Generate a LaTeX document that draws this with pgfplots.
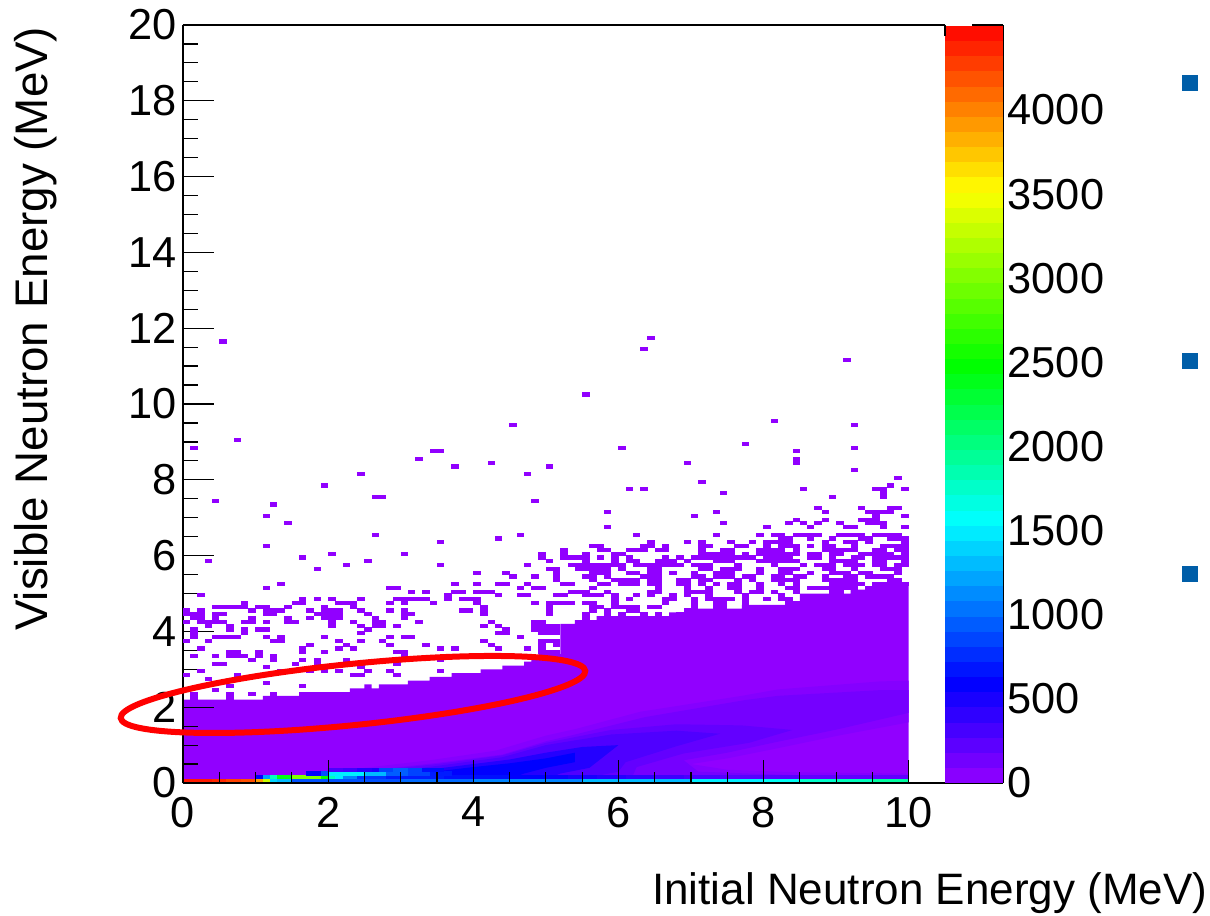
\documentclass[border=0pt]{standalone}
\usepackage{fontspec}
\setmainfont{Liberation Sans}
\usepackage{pgfplots}
\pgfplotsset{compat=1.18}
\definecolor{cellpurple}{rgb}{0.57,0,1}
\definecolor{bandAz}{rgb}{0.52,0,1}
\definecolor{bandA}{rgb}{0.46,0,1}
\definecolor{bandAb}{rgb}{0.39,0,1}
\definecolor{bandB}{rgb}{0.31,0,1}
\definecolor{bandC}{rgb}{0.14,0,1}
\definecolor{bandD}{rgb}{0,0,1}
\definecolor{slideblue}{RGB}{0,94,168}
\pgfdeclareplotmark{cell}{\pgfpathrectangle{\pgfqpoint{-2.8pt}{-1.55pt}}{\pgfqpoint{5.6pt}{3.1pt}}\pgfusepathqfill}
\pgfdeclareplotmark{palcell}{\pgfpathrectangle{\pgfqpoint{-21.75pt}{-5.82pt}}{\pgfqpoint{43.5pt}{11.64pt}}\pgfusepathqfill}
\pgfplotsset{
  colormap={root}{rgb(0pt)=(0.58,0,1); rgb(595pt)=(0,0,1); rgb(1560pt)=(0,1,1); rgb(2480pt)=(0,1,0); rgb(3520pt)=(1,1,0); rgb(4505pt)=(1,0,0)},
  common/.style={scale only axis, clip=true, tick align=inside,
    tick style={black, line width=0.9pt},
    axis line style={line width=1.1pt, black},
    /pgf/number format/assume math mode=true,
    /pgf/number format/1000 sep={},
    tick label style={font=\fontsize{32.5}{32.5}\selectfont}},
}
\begin{document}
\begin{tikzpicture}
\path[use as bounding box] (-137.25pt,-99pt) rectangle (770.25pt,587.25pt);
% main histogram
\begin{axis}[common, at={(0,0)}, anchor=south west, width=571.5pt, height=568.5pt,
  xmin=0, xmax=10.5, ymin=0, ymax=20,
  axis x line=none, axis y line*=left, axis on top,
  ytick={0,2,...,20}, minor y tick num=3,
  major tick length=23.25pt, minor tick length=11.6pt,
  yticklabel style={xshift=-1pt},
  ylabel={Visible Neutron Energy (MeV)},
  every axis y label/.style={at={(rel axis cs:0,0)}, xshift=-101.25pt, yshift=570.75pt,
    rotate=90, anchor=base east, font=\fontsize{34.3}{34.3}\selectfont},
  point meta min=0, point meta max=4505, colormap name=root]
% solid region: upper edge of the filled bins
\addplot[const plot, fill=cellpurple, draw=none] coordinates {
(0,2.2)(1.1,2.3)(1.6,2.4)(2.3,2.5)(2.5,2.6)(2.6,2.5)(2.7,2.6)(3.1,2.7)(3.4,2.8)(3.7,2.9)(4.1,3.0)(4.4,3.1)(4.7,3.2)(4.8,3.3)(4.9,3.4)(5.2,4.2)(5.4,4.3)(5.7,4.4)(6.7,4.5)(7.0,4.6)(7.7,4.7)(8.3,4.8)(8.5,5.0)(9.2,5.1)(9.6,5.2)(9.9,5.3)(10,5.3)} \closedcycle;
% density bands
\addplot[fill=bandAz, draw=none] coordinates {
(2.0,0.1)(2.0,0.2)(2.5,0.4)(3.4,0.6)(4.3,0.85)(5,1.25)(5.4,1.42)(6.3,1.88)(7.7,2.3)(8.2,2.47)(9.6,2.68)(10,2.7)(10,1.6)(9.03,1.25)(8.1,0.88)(7.5,0.65)(7.0,0.5)(7.5,0.35)(8.5,0.28)(10,0.25)(10,0.1)} --cycle;
\addplot[fill=bandA, draw=none] coordinates {
(2.2,0.1)(2.2,0.2)(2.6,0.34)(3.5,0.53)(4.4,0.75)(5,1.1)(5.34,1.25)(6.37,1.74)(7.75,2.19)(8.2,2.3)(9.6,2.45)(10,2.45)(10,1.85)(9.03,1.42)(8.1,1.05)(7.5,0.8)(6.9,0.6)(7.1,0.3)(8.5,0.2)(10,0.18)(10,0.1)} --cycle;
\addplot[fill=bandAb, draw=none] coordinates {
(2.4,0.1)(2.4,0.2)(2.9,0.38)(3.5,0.5)(4.4,0.73)(5,1.06)(5.9,1.4)(6.8,1.55)(7.7,1.52)(8.4,1.4)(7.8,1.06)(6.9,0.78)(6.25,0.42)(6.2,0.2)(5.5,0.1)} --cycle;
\addplot[fill=bandB, draw=none] coordinates {
(2.6,0.1)(2.6,0.2)(3,0.33)(3.5,0.45)(4.4,0.68)(5,1.0)(5.9,1.28)(6.8,1.38)(7.4,1.3)(6.8,0.97)(6.1,0.55)(6,0.3)(5.6,0.15)(5.6,0.1)} --cycle;
\addplot[fill=bandC, draw=none] coordinates {
(3,0.1)(3,0.2)(3.5,0.38)(4,0.5)(4.5,0.62)(5,0.8)(5.5,0.95)(6.0,1.0)(5.8,0.7)(5.6,0.4)(5.2,0.25)(5,0.1)} --cycle;
\addplot[fill=bandD, draw=none] coordinates {
(3.2,0.1)(3.2,0.2)(3.6,0.33)(4,0.42)(4.5,0.52)(5,0.65)(5.4,0.8)(5.4,0.55)(5,0.4)(4.7,0.25)(4.5,0.1)} --cycle;
% isolated bins above the solid region
\addplot[only marks, mark=cell, color=cellpurple] coordinates {
(6.45,11.75)(0.55,11.65)(6.35,11.45)(9.15,11.15)(5.55,10.25)(8.15,9.55)(4.55,9.45)(9.25,9.45)(0.75,9.05)(7.75,8.95)
(0.15,8.85)(6.05,8.85)(9.25,8.85)(3.45,8.75)(3.55,8.75)(8.45,8.75)(3.25,8.55)(8.45,8.55)(4.25,8.45)(6.95,8.45)(8.45,8.45)
(3.75,8.35)(5.05,8.35)(9.25,8.25)(2.45,8.15)(4.75,8.15)(9.85,8.05)(7.15,7.95)(1.95,7.85)(9.75,7.85)
(6.15,7.75)(6.35,7.75)(8.55,7.75)(9.55,7.75)(9.65,7.75)(9.95,7.75)(7.45,7.65)(9.65,7.65)
(2.65,7.55)(2.75,7.55)(8.95,7.55)(9.65,7.55)(0.45,7.45)(4.85,7.45)(1.25,7.35)
(8.75,7.25)(9.35,7.25)(9.75,7.25)(9.85,7.25)(5.85,7.15)(7.35,7.15)(8.85,7.15)(9.45,7.15)(9.55,7.15)(9.65,7.15)(9.75,7.15)
(1.15,7.05)(7.05,7.05)(9.55,7.05)(9.95,7.05)
(8.45,6.95)(8.85,6.95)(9.35,6.95)(9.45,6.95)(9.55,6.95)
(1.45,6.85)(7.45,6.85)(8.35,6.85)(8.55,6.85)(8.75,6.85)(9.05,6.85)(9.45,6.85)(9.55,6.85)(9.65,6.85)
(5.85,6.75)(8.05,6.75)(8.65,6.75)(9.15,6.75)(9.25,6.75)(9.65,6.75)(9.95,6.75)
(2.65,6.55)(4.65,6.55)(6.25,6.55)(7.35,6.55)(7.95,6.55)(8.15,6.55)(8.25,6.55)(8.45,6.55)(8.55,6.55)(8.65,6.55)(8.75,6.55)(9.05,6.55)(9.15,6.55)(9.25,6.55)(9.35,6.55)(9.55,6.55)(9.65,6.55)(9.75,6.55)(9.85,6.55)
(4.35,6.45)(8.25,6.45)(8.35,6.45)(8.65,6.45)(8.95,6.45)(9.35,6.45)(9.45,6.45)(9.75,6.45)(9.85,6.45)(9.95,6.45)
(3.55,6.35)(6.45,6.35)(6.95,6.35)(7.15,6.35)(7.55,6.35)(7.85,6.35)(8.05,6.35)(8.15,6.35)(8.25,6.35)(8.35,6.35)(8.85,6.35)(9.15,6.35)(9.25,6.35)(9.45,6.35)(9.95,6.35)
(1.15,6.25)(5.65,6.25)(5.75,6.25)(6.35,6.25)(6.45,6.25)(6.65,6.25)(7.15,6.25)(7.25,6.25)(7.65,6.25)(7.75,6.25)(8.05,6.25)(8.25,6.25)(8.35,6.25)(8.45,6.25)(8.65,6.25)(8.85,6.25)(8.95,6.25)(9.25,6.25)(9.65,6.25)(9.75,6.25)(9.85,6.25)(9.95,6.25)
(5.25,6.15)(5.75,6.15)(5.85,6.15)(6.15,6.15)(6.25,6.15)(6.35,6.15)(6.55,6.15)(6.65,6.15)(7.15,6.15)(7.45,6.15)(7.55,6.15)(7.95,6.15)(8.05,6.15)(8.15,6.15)(8.25,6.15)(8.45,6.15)(8.85,6.15)(8.95,6.15)(9.05,6.15)(9.15,6.15)(9.25,6.15)(9.55,6.15)(9.65,6.15)(9.85,6.15)(9.95,6.15)
(2.05,6.05)(3.05,6.05)(4.95,6.05)(5.25,6.05)(5.55,6.05)(5.95,6.05)(6.05,6.05)(7.15,6.05)(7.25,6.05)(7.35,6.05)(7.45,6.05)(7.55,6.05)(7.75,6.05)(7.95,6.05)(8.05,6.05)(8.15,6.05)(8.25,6.05)(8.35,6.05)(8.45,6.05)(8.65,6.05)(8.75,6.05)(8.95,6.05)(9.05,6.05)(9.35,6.05)(9.45,6.05)(9.55,6.05)(9.65,6.05)(9.75,6.05)(9.95,6.05)
(1.65,5.95)(4.95,5.95)(5.25,5.95)(5.35,5.95)(5.45,5.95)(5.55,5.95)(5.75,5.95)(5.95,5.95)(6.15,5.95)(6.65,5.95)(6.85,5.95)(7.05,5.95)(7.15,5.95)(7.25,5.95)(7.35,5.95)(7.45,5.95)(7.55,5.95)(7.65,5.95)(7.75,5.95)(7.85,5.95)(8.05,5.95)(8.15,5.95)(8.25,5.95)(8.35,5.95)(8.65,5.95)(8.75,5.95)(8.95,5.95)(9.25,5.95)(9.35,5.95)(9.55,5.95)(9.65,5.95)(9.75,5.95)(9.85,5.95)(9.95,5.95)
(0.35,5.85)(2.55,5.85)(5.05,5.85)(5.55,5.85)(5.95,5.85)(6.15,5.85)(6.25,5.85)(6.55,5.85)(6.65,5.85)(6.75,5.85)(6.95,5.85)(7.35,5.85)(7.45,5.85)(7.55,5.85)(7.95,5.85)(8.05,5.85)(8.15,5.85)(8.25,5.85)(8.35,5.85)(8.45,5.85)(8.95,5.85)(9.05,5.85)(9.15,5.85)(9.25,5.85)(9.55,5.85)(9.65,5.85)(9.95,5.85)
(2.25,5.75)(3.55,5.75)(4.75,5.75)(5.35,5.75)(5.45,5.75)(5.55,5.75)(5.65,5.75)(5.75,5.75)(5.85,5.75)(5.95,5.75)(6.05,5.75)(6.25,5.75)(6.35,5.75)(6.45,5.75)(6.55,5.75)(6.65,5.75)(6.75,5.75)(6.85,5.75)(7.05,5.75)(7.15,5.75)(7.25,5.75)(7.65,5.75)(8.15,5.75)(8.55,5.75)(8.75,5.75)(8.85,5.75)(8.95,5.75)(9.15,5.75)(9.25,5.75)(9.35,5.75)(9.55,5.75)(9.65,5.75)(9.85,5.75)(9.95,5.75)
(1.85,5.65)(5.05,5.65)(5.15,5.65)(5.45,5.65)(5.55,5.65)(5.65,5.65)(5.75,5.65)(5.85,5.65)(6.05,5.65)(6.45,5.65)(6.55,5.65)(7.15,5.65)(7.25,5.65)(7.45,5.65)(7.55,5.65)(7.65,5.65)(7.95,5.65)(8.25,5.65)(8.35,5.65)(8.45,5.65)(8.85,5.65)(8.95,5.65)(9.25,5.65)(9.65,5.65)(9.75,5.65)(9.85,5.65)
(4.05,5.55)(4.45,5.55)(5.15,5.55)(5.65,5.55)(5.75,5.55)(5.85,5.55)(6.15,5.55)(6.25,5.55)(6.45,5.55)(6.55,5.55)(6.75,5.55)(7.05,5.55)(7.35,5.55)(7.45,5.55)(7.55,5.55)(7.95,5.55)(8.25,5.55)(8.35,5.55)(8.65,5.55)(8.95,5.55)(9.05,5.55)(9.15,5.55)(9.35,5.55)(9.45,5.55)(9.85,5.55)
(4.55,5.45)(4.85,5.45)(5.15,5.45)(5.55,5.45)(5.65,5.45)(5.85,5.45)(6.35,5.45)(6.45,5.45)(6.55,5.45)(7.05,5.45)(7.15,5.45)(7.35,5.45)(7.45,5.45)(7.55,5.45)(7.75,5.45)(7.85,5.45)(8.15,5.45)(8.25,5.45)(8.45,5.45)(8.55,5.45)(8.85,5.45)(9.15,5.45)(9.25,5.45)(9.45,5.45)(9.55,5.45)(9.65,5.45)(9.75,5.45)
(5.15,5.35)(5.65,5.35)(5.95,5.35)(6.05,5.35)(6.15,5.35)(6.25,5.35)(6.45,5.35)(6.55,5.35)(6.85,5.35)(6.95,5.35)(7.15,5.35)(7.25,5.35)(7.65,5.35)(7.85,5.35)(8.15,5.35)(8.25,5.35)(8.35,5.35)(8.45,5.35)(8.85,5.35)(8.95,5.35)(9.05,5.35)(9.15,5.35)(9.25,5.35)(9.75,5.35)(9.85,5.35)
(1.35,5.25)(3.75,5.25)(4.05,5.25)(4.35,5.25)(4.45,5.25)(4.75,5.25)(5.25,5.25)(5.35,5.25)(5.75,5.25)(5.85,5.25)(6.05,5.25)(6.15,5.25)(6.25,5.25)(6.45,5.25)(6.55,5.25)(6.85,5.25)(6.95,5.25)(7.15,5.25)(7.35,5.25)(7.55,5.25)(7.65,5.25)(7.95,5.25)(8.25,5.25)(8.45,5.25)(8.95,5.25)(9.05,5.25)(9.15,5.25)(9.25,5.25)(9.35,5.25)(9.55,5.25)(9.65,5.25)(9.75,5.25)(9.85,5.25)(9.95,5.25)
(1.15,5.15)(2.85,5.15)(2.95,5.15)(4.65,5.15)(4.85,5.15)(4.95,5.15)(5.65,5.15)(6.55,5.15)(6.95,5.15)(7.25,5.15)(7.55,5.15)(7.65,5.15)(7.95,5.15)(8.35,5.15)(8.45,5.15)(8.65,5.15)(8.75,5.15)(8.85,5.15)(8.95,5.15)(9.05,5.15)(9.15,5.15)(9.25,5.15)(9.45,5.15)(9.55,5.15)(9.65,5.15)(9.75,5.15)(9.85,5.15)
(3.15,5.05)(3.35,5.05)(3.75,5.05)(3.85,5.05)(4.05,5.05)(4.15,5.05)(4.25,5.05)(5.35,5.05)(5.45,5.05)(5.55,5.05)(5.85,5.05)(6.45,5.05)(6.55,5.05)(6.95,5.05)(7.05,5.05)(7.15,5.05)(7.25,5.05)(7.65,5.05)(7.85,5.05)(7.95,5.05)(8.15,5.05)(8.45,5.05)(8.95,5.05)(9.05,5.05)
(0.25,4.95)(3.65,4.95)(4.35,4.95)(4.65,4.95)(4.75,4.95)(5.15,4.95)(5.25,4.95)(5.55,4.95)(5.65,4.95)(5.75,4.95)(5.95,4.95)(6.25,4.95)(6.45,4.95)(6.75,4.95)(6.95,4.95)(7.25,4.95)(7.75,4.95)(8.25,4.95)
(1.65,4.85)(1.85,4.85)(2.05,4.85)(2.45,4.85)(2.95,4.85)(3.05,4.85)(3.15,4.85)(3.25,4.85)(3.35,4.85)(3.65,4.85)(3.85,4.85)(3.95,4.85)(4.05,4.85)(5.95,4.85)(6.15,4.85)(6.65,4.85)(6.75,4.85)(7.05,4.85)(7.25,4.85)(7.35,4.85)(7.45,4.85)(7.55,4.85)(7.75,4.85)(8.05,4.85)(8.25,4.85)(8.35,4.85)
(0.85,4.75)(1.55,4.75)(1.65,4.75)(2.15,4.75)(2.25,4.75)(2.35,4.75)(2.85,4.75)(3.05,4.75)(3.45,4.75)(4.05,4.75)(4.85,4.75)(5.05,4.75)(5.15,4.75)(5.25,4.75)(5.35,4.75)(5.55,4.75)(5.65,4.75)(5.95,4.75)(6.65,4.75)(7.05,4.75)(7.35,4.75)(7.45,4.75)(7.75,4.75)(8.35,4.75)
(0.45,4.65)(0.55,4.65)(0.65,4.65)(0.75,4.65)(0.85,4.65)(1.05,4.65)(1.15,4.65)(1.45,4.65)(1.95,4.65)(2.35,4.65)(4.15,4.65)(5.05,4.65)(5.65,4.65)(5.75,4.65)(5.95,4.65)(6.05,4.65)(6.15,4.65)(6.25,4.65)(6.45,4.65)(6.55,4.65)(7.05,4.65)(7.35,4.65)(7.45,4.65)
(0.05,4.55)(0.25,4.55)(0.95,4.55)(1.15,4.55)(1.25,4.55)(1.35,4.55)(1.75,4.55)(1.95,4.55)(2.05,4.55)(2.15,4.55)(2.45,4.55)(2.85,4.55)(3.05,4.55)(3.85,4.55)(3.95,4.55)(4.15,4.55)(5.05,4.55)(5.65,4.55)(5.85,4.55)(6.15,4.55)(6.25,4.55)(6.95,4.55)
(0.05,4.45)(0.15,4.45)(0.25,4.45)(0.45,4.45)(0.55,4.45)(1.15,4.45)(1.25,4.45)(1.85,4.45)(1.95,4.45)(2.05,4.45)(2.15,4.45)(2.55,4.45)(3.05,4.45)(3.15,4.45)(4.15,4.45)(5.05,4.45)(5.55,4.45)(5.85,4.45)(6.05,4.45)(6.35,4.45)(6.55,4.45)(6.85,4.45)
(0.15,4.35)(0.25,4.35)(0.45,4.35)(0.95,4.35)(1.45,4.35)(1.75,4.35)(1.95,4.35)(2.05,4.35)(2.15,4.35)(2.65,4.35)(3.05,4.35)(5.55,4.35)(5.75,4.35)(5.85,4.35)(5.95,4.35)(6.05,4.35)
(0.05,4.25)(0.25,4.25)(0.35,4.25)(0.45,4.25)(0.55,4.25)(0.85,4.25)(0.95,4.25)(1.15,4.25)(1.45,4.25)(1.55,4.25)(2.05,4.25)(2.35,4.25)(2.65,4.25)(2.75,4.25)(3.25,4.25)(4.25,4.25)(4.85,4.25)(4.95,4.25)
(0.35,4.15)(0.65,4.15)(2.05,4.15)(2.45,4.15)(2.65,4.15)(2.75,4.15)(2.95,4.15)(4.15,4.15)(4.35,4.15)(4.85,4.15)(4.95,4.15)(5.05,4.15)(5.15,4.15)
(0.15,4.05)(0.65,4.05)(0.85,4.05)(1.05,4.05)(1.15,4.05)(2.55,4.05)(4.45,4.05)(4.85,4.05)(4.95,4.05)(5.05,4.05)(5.15,4.05)
(0.15,3.95)(0.85,3.95)(2.45,3.95)(4.35,3.95)(4.45,3.95)(4.95,3.95)(5.05,3.95)(5.15,3.95)
(0.15,3.85)(0.45,3.85)(0.55,3.85)(0.65,3.85)(0.75,3.85)(1.15,3.85)(1.35,3.85)(1.95,3.85)(2.85,3.85)(3.05,3.85)(3.15,3.85)(4.65,3.85)
(0.05,3.75)(0.35,3.75)(1.25,3.75)(1.35,3.75)(2.15,3.75)(2.45,3.75)(2.75,3.75)(4.15,3.75)(4.95,3.75)(5.05,3.75)(5.15,3.75)
(1.75,3.65)(2.25,3.65)(2.85,3.65)(3.35,3.65)(4.25,3.65)(4.95,3.65)(5.15,3.65)
(0.25,3.55)(1.65,3.55)(2.15,3.55)(2.35,3.55)(3.55,3.55)(3.75,3.55)(4.35,3.55)(4.75,3.55)(4.95,3.55)
(0.65,3.45)(0.75,3.45)(1.05,3.45)(1.65,3.45)(1.95,3.45)(2.95,3.45)(3.05,3.45)(4.95,3.45)(5.05,3.45)(5.15,3.45)
(0.15,3.35)(0.45,3.35)(0.65,3.35)(0.75,3.35)(0.85,3.35)(1.05,3.35)(1.25,3.35)(3.05,3.35)
(0.95,3.25)(1.25,3.25)(1.65,3.25)(1.85,3.25)(2.25,3.25)(3.55,3.25)
(0.45,3.15)(0.55,3.15)(1.55,3.15)(1.85,3.15)(2.95,3.15)
(1.15,3.05)(2.45,3.05)
(0.25,2.95)(1.35,2.95)(1.75,2.95)(1.95,2.95)(2.15,2.95)(2.55,2.95)(2.85,2.95)(3.55,2.95)
(0.05,2.85)(0.75,2.85)(2.35,2.85)(2.45,2.85)(2.95,2.85)
(0.35,2.75)(1.15,2.65)(0.65,2.55)(1.65,2.55)(0.45,2.45)
(0.15,2.35)(0.65,2.35)(0.95,2.35)(1.25,2.35)(0.15,2.25)(0.65,2.25)};
% bottom rows of bins, coloured by content
\addplot[scatter, only marks, mark=cell, point meta=explicit,
  scatter/use mapped color={draw=none, fill=mapped color}] coordinates {
(1.05,0.15)[600](1.15,0.15)[1200](1.25,0.15)[1800](1.35,0.15)[2400](1.45,0.15)[2400](1.55,0.15)[3000](1.65,0.15)[3000](1.75,0.15)[3000](1.85,0.15)[3000](1.95,0.15)[2500](2.05,0.15)[1800](2.15,0.15)[1500](2.25,0.15)[1100](2.35,0.15)[1100](2.45,0.15)[800](2.55,0.15)[800](2.65,0.15)[800](2.75,0.15)[800](2.85,0.15)[700](2.95,0.15)[700](3.05,0.15)[700](3.15,0.15)[700](3.25,0.15)[700](3.35,0.15)[700](3.45,0.15)[700](3.55,0.15)[700](3.65,0.15)[650](3.75,0.15)[650](3.85,0.15)[650](3.95,0.15)[650](4.05,0.15)[650](4.15,0.15)[650](4.25,0.15)[650](4.35,0.15)[650](4.45,0.15)[650]
(4.55,0.15)[600](4.65,0.15)[600](4.75,0.15)[600](4.85,0.15)[600](4.95,0.15)[600](5.05,0.15)[550](5.15,0.15)[550](5.25,0.15)[550](5.35,0.15)[500](5.45,0.15)[500](5.55,0.15)[500](5.65,0.15)[500](5.75,0.15)[450](5.85,0.15)[450](5.95,0.15)[450](6.05,0.15)[450](6.15,0.15)[400](6.25,0.15)[400](6.35,0.15)[400](6.45,0.15)[400](6.55,0.15)[350](6.65,0.15)[350](6.75,0.15)[350](6.85,0.15)[350](6.95,0.15)[300](7.05,0.15)[300](7.15,0.15)[300](7.25,0.15)[300](7.35,0.15)[300](7.45,0.15)[250](7.55,0.15)[250](7.65,0.15)[250](7.75,0.15)[250](7.85,0.15)[250](7.95,0.15)[250](8.05,0.15)[250](8.15,0.15)[250](8.25,0.15)[250](8.35,0.15)[250](8.45,0.15)[250](8.55,0.15)[200](8.65,0.15)[200](8.75,0.15)[200](8.85,0.15)[200](8.95,0.15)[200](9.05,0.15)[200](9.15,0.15)[200](9.25,0.15)[200](9.35,0.15)[200](9.45,0.15)[200](9.55,0.15)[200](9.65,0.15)[200](9.75,0.15)[200](9.85,0.15)[200](9.95,0.15)[200]
(1.75,0.25)[600](1.85,0.25)[600](1.95,0.25)[900](2.05,0.25)[1500](2.15,0.25)[1500](2.25,0.25)[1500](2.35,0.25)[1500](2.45,0.25)[1500](2.55,0.25)[1300](2.65,0.25)[1300](2.75,0.25)[1300](2.85,0.25)[950](2.95,0.25)[950](3.05,0.25)[950](3.15,0.25)[850](3.25,0.25)[850](3.35,0.25)[850](3.45,0.25)[700](3.55,0.25)[700](3.65,0.25)[700]
(2.05,0.35)[300](2.15,0.35)[300](2.25,0.35)[350](2.35,0.35)[350](2.45,0.35)[450](2.55,0.35)[450](2.65,0.35)[500](2.75,0.35)[850](2.85,0.35)[850](2.95,0.35)[950](3.05,0.35)[950](3.15,0.35)[850](3.25,0.35)[850](3.35,0.35)[650](3.45,0.35)[650](3.55,0.35)[650]
(0.05,0.05)[4400](0.15,0.05)[4400](0.25,0.05)[4400](0.35,0.05)[4400](0.45,0.05)[4350](0.55,0.05)[4350](0.65,0.05)[4250](0.75,0.05)[4250](0.85,0.05)[4200](0.95,0.05)[4200](1.05,0.05)[3900](1.15,0.05)[3300](1.25,0.05)[1400](1.35,0.05)[1300](1.45,0.05)[1300]
(1.55,0.05)[900](1.65,0.05)[900](1.75,0.05)[900](1.85,0.05)[900](1.95,0.05)[900](2.05,0.05)[900](2.15,0.05)[900](2.25,0.05)[900](2.35,0.05)[900](2.45,0.05)[900](2.55,0.05)[900](2.65,0.05)[900](2.75,0.05)[900](2.85,0.05)[900](2.95,0.05)[900]
(3.05,0.05)[1000](3.15,0.05)[1000](3.25,0.05)[1000](3.35,0.05)[1000](3.45,0.05)[1000](3.55,0.05)[1000](3.65,0.05)[1000](3.75,0.05)[1000](3.85,0.05)[1000](3.95,0.05)[1000]
(4.05,0.05)[1100](4.15,0.05)[1100](4.25,0.05)[1100](4.35,0.05)[1100](4.45,0.05)[1100](4.55,0.05)[1100](4.65,0.05)[1100](4.75,0.05)[1100](4.85,0.05)[1100](4.95,0.05)[1100](5.05,0.05)[1100](5.15,0.05)[1100](5.25,0.05)[1100](5.35,0.05)[1100](5.45,0.05)[1100]
(5.55,0.05)[1300](5.65,0.05)[1300](5.75,0.05)[1300](5.85,0.05)[1300](5.95,0.05)[1300](6.05,0.05)[1300](6.15,0.05)[1300](6.25,0.05)[1300](6.35,0.05)[1300](6.45,0.05)[1300](6.55,0.05)[1300](6.65,0.05)[1300](6.75,0.05)[1300](6.85,0.05)[1300](6.95,0.05)[1300]
(7.05,0.05)[1500](7.15,0.05)[1500](7.25,0.05)[1500](7.35,0.05)[1500](7.45,0.05)[1500](7.55,0.05)[1500](7.65,0.05)[1500](7.75,0.05)[1500](7.85,0.05)[1500](7.95,0.05)[1500](8.05,0.05)[1600](8.15,0.05)[1600](8.25,0.05)[1600](8.35,0.05)[1600](8.45,0.05)[1600]
(8.55,0.05)[1750](8.65,0.05)[1750](8.75,0.05)[1750](8.85,0.05)[1750](8.95,0.05)[1750](9.05,0.05)[1800](9.15,0.05)[1800](9.25,0.05)[1800](9.35,0.05)[1800](9.45,0.05)[1800](9.55,0.05)[1900](9.65,0.05)[1900](9.75,0.05)[1900](9.85,0.05)[1900](9.95,0.05)[1900]};
\end{axis}
% x axis ticks and labels
\begin{axis}[common, at={(0,0)}, anchor=south west, width=571.5pt, height=568.5pt,
  xmin=0, xmax=10.5, ymin=0, ymax=20,
  axis x line*=bottom, axis y line=none,
  xtick={0,2,...,10}, minor x tick num=3,
  major tick length=17.25pt, minor tick length=8.25pt,
  xticklabel style={yshift=-7pt},
  xlabel={Initial Neutron Energy (MeV)},
  every axis x label/.style={at={(rel axis cs:0,0)}, xshift=768.5pt, yshift=-90.75pt,
    anchor=base east, inner sep=0pt, font=\fontsize{33}{33}\selectfont}]
\end{axis}
% palette
\begin{axis}[common, at={(571.5pt,0)}, anchor=south west, width=43.5pt, height=568.5pt,
  xmin=0, xmax=1, ymin=0, ymax=4505,
  axis x line*=bottom, axis y line*=right, xtick=\empty, axis on top,
  ytick={0,500,...,4000},
  major tick length=23.25pt,
  yticklabel style={xshift=0pt},
  point meta min=0, point meta max=4505, colormap name=root]
\addplot[scatter, only marks, mark=palcell, point meta=explicit,
  scatter/use mapped color={draw=none, fill=mapped color}] coordinates {
(0.5,45)[45](0.5,135)[135](0.5,225)[225](0.5,315)[315](0.5,405)[405](0.5,495)[495](0.5,585)[585](0.5,675)[675](0.5,765)[765](0.5,855)[855]
(0.5,945)[945](0.5,1035)[1035](0.5,1125)[1125](0.5,1215)[1215](0.5,1305)[1305](0.5,1395)[1395](0.5,1485)[1485](0.5,1575)[1575](0.5,1665)[1665](0.5,1755)[1755]
(0.5,1845)[1845](0.5,1935)[1935](0.5,2025)[2025](0.5,2115)[2115](0.5,2205)[2205](0.5,2295)[2295](0.5,2385)[2385](0.5,2475)[2475](0.5,2565)[2565](0.5,2655)[2655]
(0.5,2745)[2745](0.5,2835)[2835](0.5,2925)[2925](0.5,3015)[3015](0.5,3105)[3105](0.5,3195)[3195](0.5,3285)[3285](0.5,3375)[3375](0.5,3465)[3465](0.5,3555)[3555]
(0.5,3645)[3645](0.5,3735)[3735](0.5,3825)[3825](0.5,3915)[3915](0.5,4005)[4005](0.5,4095)[4095](0.5,4185)[4185](0.5,4275)[4275](0.5,4365)[4365](0.5,4455)[4455]};
\end{axis}
% frame top line
\draw[black, line width=1.1pt] (0,568.5pt) -- (571.5pt,568.5pt);
\draw[black, line width=1.1pt] (591.75pt,568.5pt) -- (615pt,568.5pt);
\draw[black, line width=0.9pt] (571.5pt,568.5pt) -- (571.5pt,560pt);
% annotation ellipse
\draw[red, line width=4.5pt] (127.5pt,66.4pt) ellipse[x radius=175.1pt, y radius=22.95pt, rotate=5.8];
% slide bullets
\fill[slideblue] (749.25pt,519pt) rectangle (761.25pt,531pt);
\fill[slideblue] (749.25pt,310.5pt) rectangle (761.25pt,322.5pt);
\fill[slideblue] (749.25pt,150.75pt) rectangle (761.25pt,162.75pt);
\end{tikzpicture}
\end{document}
